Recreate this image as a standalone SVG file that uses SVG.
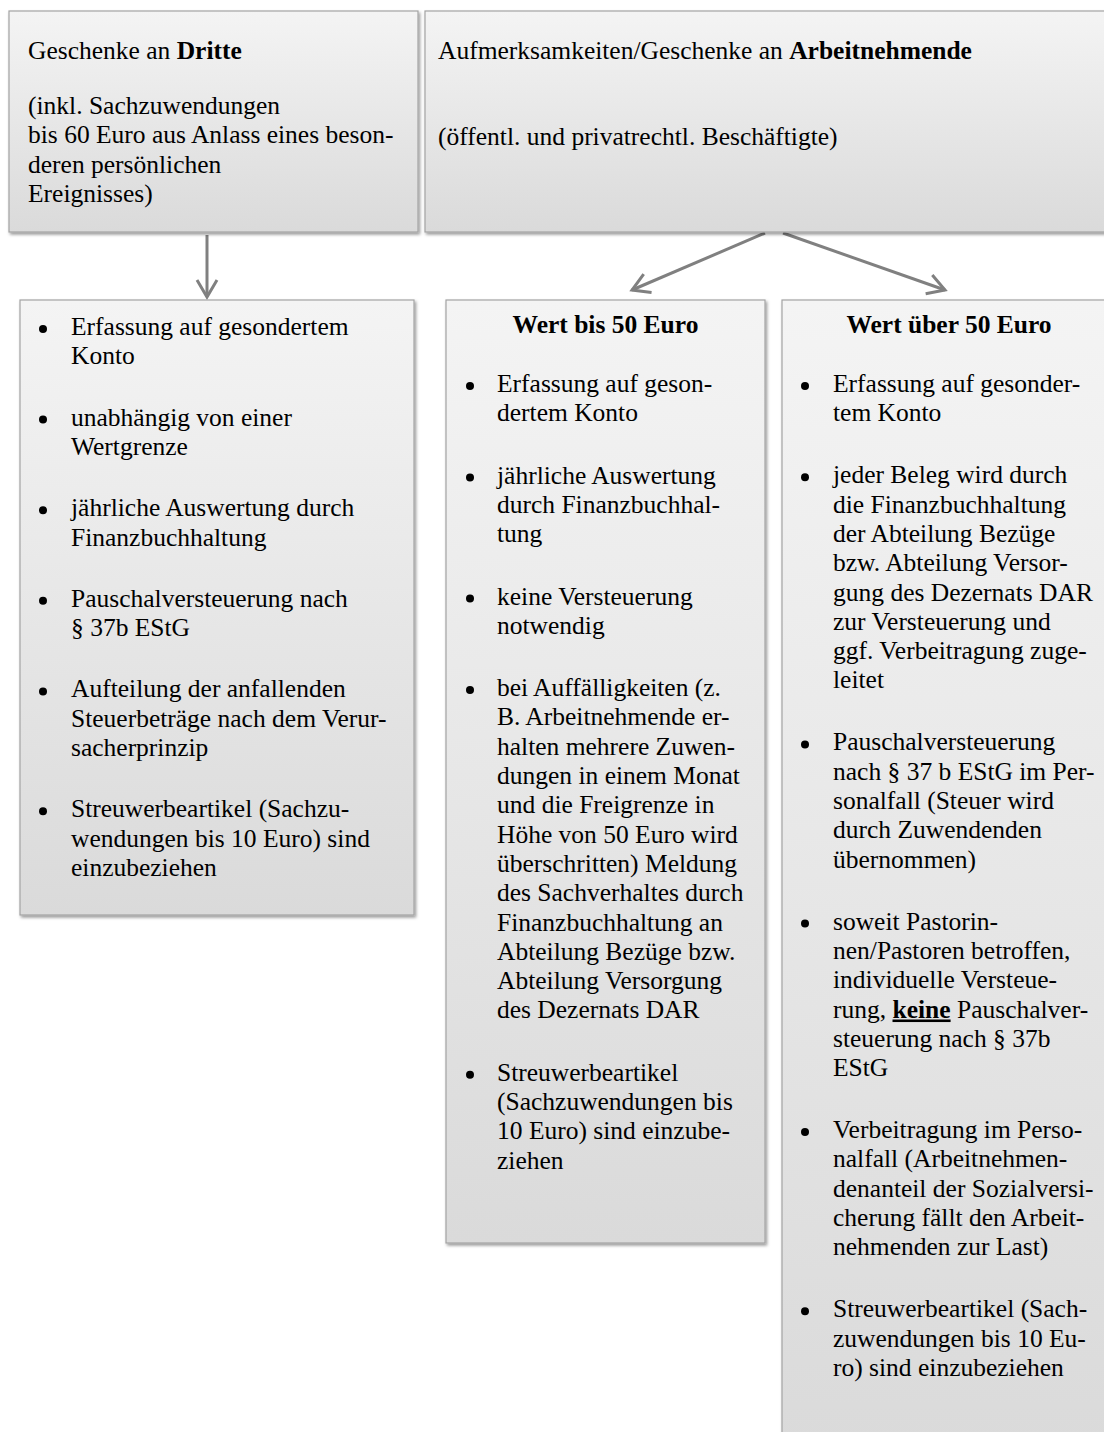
<svg xmlns="http://www.w3.org/2000/svg" width="1104" height="1432" viewBox="0 0 1104 1432">
<style>
  text { font-family: "Liberation Serif", "Times New Roman", serif; font-size: 25.5px; fill: #000; }
  .b { font-weight: bold; }
  .box { fill: url(#grad); stroke: #a3a3a3; stroke-width: 1.2; filter: url(#shadow); }
  .bul { fill: #000; }
  .conn { stroke: #808080; stroke-width: 3; fill: none; marker-end: url(#arr); }
</style>
<defs>
  <linearGradient id="grad" x1="0" y1="0" x2="0" y2="1">
    <stop offset="0" stop-color="#f4f4f4"/>
    <stop offset="1" stop-color="#dadada"/>
  </linearGradient>
  <filter id="shadow" x="-5%" y="-5%" width="115%" height="115%">
    <feDropShadow dx="1.5" dy="2" stdDeviation="1.5" flood-color="#000" flood-opacity="0.4"/>
  </filter>
  <marker id="arr" viewBox="-20 -12 24 24" refX="0" refY="0" markerWidth="24" markerHeight="24" markerUnits="userSpaceOnUse" orient="auto">
    <path d="M-17,-10 L0,0 L-17,10" fill="none" stroke="#808080" stroke-width="3"/>
  </marker>
  <circle id="dot" r="4" class="bul"/>
</defs>
<rect width="1104" height="1432" fill="#fff"/>

<g id="connectors">
  <line class="conn" x1="207" y1="235" x2="207" y2="297"/>
  <line class="conn" x1="765" y1="233" x2="632" y2="290"/>
  <line class="conn" x1="783" y1="233" x2="945" y2="290"/>
</g>

<g id="node-dritte">
  <rect class="box" x="9" y="11" width="409" height="221"/>
  <text x="28" y="59">Geschenke an <tspan class="b">Dritte</tspan></text>
  <text x="28" y="114">(inkl. Sachzuwendungen</text>
  <text x="28" y="143.3">bis 60 Euro aus Anlass eines beson-</text>
  <text x="28" y="172.6">deren persönlichen</text>
  <text x="28" y="201.9">Ereignisses)</text>
</g>

<g id="node-arbeitnehmende">
  <rect class="box" x="425" y="11" width="700" height="221"/>
  <text x="438" y="59">Aufmerksamkeiten/Geschenke an <tspan class="b">Arbeitnehmende</tspan></text>
  <text x="438" y="145">(öffentl. und privatrechtl. Beschäftigte)</text>
</g>

<g id="node-dritte-details">
  <rect class="box" x="20" y="300" width="394" height="615"/>
  <use href="#dot" x="43" y="329"/>
  <text x="71" y="335">Erfassung auf gesondertem</text>
  <text x="71" y="364.3">Konto</text>
  <use href="#dot" x="43" y="419.6"/>
  <text x="71" y="425.6">unabhängig von einer</text>
  <text x="71" y="454.9">Wertgrenze</text>
  <use href="#dot" x="43" y="510.2"/>
  <text x="71" y="516.2">jährliche Auswertung durch</text>
  <text x="71" y="545.5">Finanzbuchhaltung</text>
  <use href="#dot" x="43" y="600.8"/>
  <text x="71" y="606.8">Pauschalversteuerung nach</text>
  <text x="71" y="636.1">§ 37b EStG</text>
  <use href="#dot" x="43" y="691.4"/>
  <text x="71" y="697.4">Aufteilung der anfallenden</text>
  <text x="71" y="726.7">Steuerbeträge nach dem Verur-</text>
  <text x="71" y="756">sacherprinzip</text>
  <use href="#dot" x="43" y="811.3"/>
  <text x="71" y="817.3">Streuwerbeartikel (Sachzu-</text>
  <text x="71" y="846.6">wendungen bis 10 Euro) sind</text>
  <text x="71" y="875.9">einzubeziehen</text>
</g>

<g id="node-bis50">
  <rect class="box" x="446" y="300" width="319" height="943"/>
  <text x="605.5" y="333" class="b" text-anchor="middle">Wert bis 50 Euro</text>
  <use href="#dot" x="470" y="386"/>
  <text x="497" y="392">Erfassung auf geson-</text>
  <text x="497" y="421.3">dertem Konto</text>
  <use href="#dot" x="470" y="477.6"/>
  <text x="497" y="483.6">jährliche Auswertung</text>
  <text x="497" y="512.9">durch Finanzbuchhal-</text>
  <text x="497" y="542.2">tung</text>
  <use href="#dot" x="470" y="598.5"/>
  <text x="497" y="604.5">keine Versteuerung</text>
  <text x="497" y="633.8">notwendig</text>
  <use href="#dot" x="470" y="690.1"/>
  <text x="497" y="696.1">bei Auffälligkeiten (z.</text>
  <text x="497" y="725.4">B. Arbeitnehmende er-</text>
  <text x="497" y="754.7">halten mehrere Zuwen-</text>
  <text x="497" y="784">dungen in einem Monat</text>
  <text x="497" y="813.3">und die Freigrenze in</text>
  <text x="497" y="842.6">Höhe von 50 Euro wird</text>
  <text x="497" y="871.9">überschritten) Meldung</text>
  <text x="497" y="901.2">des Sachverhaltes durch</text>
  <text x="497" y="930.5">Finanzbuchhaltung an</text>
  <text x="497" y="959.8">Abteilung Bezüge bzw.</text>
  <text x="497" y="989.1">Abteilung Versorgung</text>
  <text x="497" y="1018.4">des Dezernats DAR</text>
  <use href="#dot" x="470" y="1074.7"/>
  <text x="497" y="1080.7">Streuwerbeartikel</text>
  <text x="497" y="1110">(Sachzuwendungen bis</text>
  <text x="497" y="1139.3">10 Euro) sind einzube-</text>
  <text x="497" y="1168.6">ziehen</text>
</g>

<g id="node-ueber50">
  <rect class="box" x="782" y="300" width="334" height="1150"/>
  <text x="949" y="333" class="b" text-anchor="middle">Wert über 50 Euro</text>
  <use href="#dot" x="805" y="386"/>
  <text x="833" y="392">Erfassung auf gesonder-</text>
  <text x="833" y="421.3">tem Konto</text>
  <use href="#dot" x="805" y="477.3"/>
  <text x="833" y="483.3">jeder Beleg wird durch</text>
  <text x="833" y="512.6">die Finanzbuchhaltung</text>
  <text x="833" y="541.9">der Abteilung Bezüge</text>
  <text x="833" y="571.2">bzw. Abteilung Versor-</text>
  <text x="833" y="600.5">gung des Dezernats DAR</text>
  <text x="833" y="629.8">zur Versteuerung und</text>
  <text x="833" y="659.1">ggf. Verbeitragung zuge-</text>
  <text x="833" y="688.4">leitet</text>
  <use href="#dot" x="805" y="744.4"/>
  <text x="833" y="750.4">Pauschalversteuerung</text>
  <text x="833" y="779.7">nach § 37 b EStG im Per-</text>
  <text x="833" y="809">sonalfall (Steuer wird</text>
  <text x="833" y="838.3">durch Zuwendenden</text>
  <text x="833" y="867.6">übernommen)</text>
  <use href="#dot" x="805" y="923.6"/>
  <text x="833" y="929.6">soweit Pastorin-</text>
  <text x="833" y="958.9">nen/Pastoren betroffen,</text>
  <text x="833" y="988.2">individuelle Versteue-</text>
  <text x="833" y="1017.5">rung, <tspan class="b" text-decoration="underline">keine</tspan> Pauschalver-</text>
  <text x="833" y="1046.8">steuerung nach § 37b</text>
  <text x="833" y="1076.1">EStG</text>
  <use href="#dot" x="805" y="1132.1"/>
  <text x="833" y="1138.1">Verbeitragung im Perso-</text>
  <text x="833" y="1167.4">nalfall (Arbeitnehmen-</text>
  <text x="833" y="1196.7">denanteil der Sozialversi-</text>
  <text x="833" y="1226">cherung fällt den Arbeit-</text>
  <text x="833" y="1255.3">nehmenden zur Last)</text>
  <use href="#dot" x="805" y="1311.3"/>
  <text x="833" y="1317.3">Streuwerbeartikel (Sach-</text>
  <text x="833" y="1346.6">zuwendungen bis 10 Eu-</text>
  <text x="833" y="1375.9">ro) sind einzubeziehen</text>
</g>
</svg>
